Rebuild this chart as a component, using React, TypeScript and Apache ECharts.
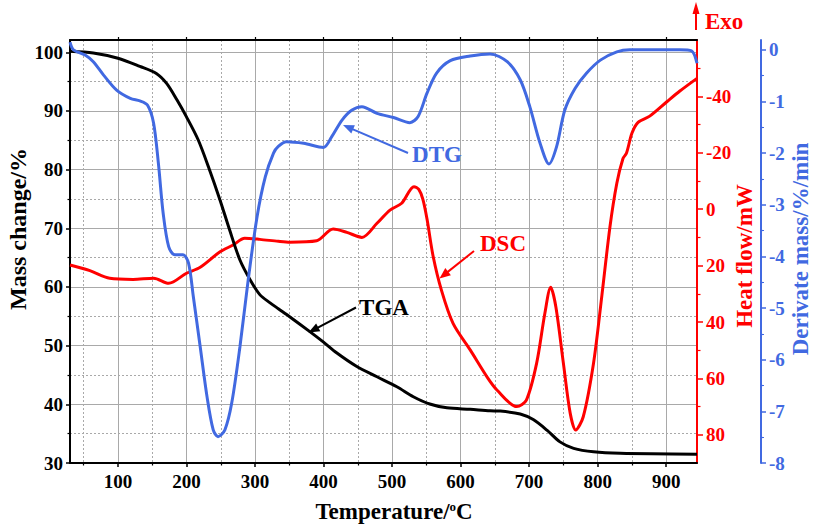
import React, { useEffect, useRef } from 'react';
import * as echarts from 'echarts';

const FONT = '"Liberation Serif", "Times New Roman", serif';
const BLUE = '#4169E1';
const RED = '#FF0000';
const GRID = '#a9a9a9';

// ---- data ----
const tgaT = [30, 64, 100, 132, 156, 171, 186, 200, 217, 232, 249, 263, 278, 293, 307, 322, 334, 351, 380, 400, 419, 448, 478, 507, 531, 555, 580, 614, 643, 658, 687, 706, 726, 745, 765, 794, 833, 945];
const tgaMass = [100.2, 99.9, 99.0, 97.6, 96.4, 94.7, 91.9, 89.0, 85.1, 80.5, 74.8, 69.7, 64.6, 61.2, 58.7, 57.3, 56.3, 54.9, 52.4, 50.6, 48.8, 46.5, 44.7, 43.0, 41.3, 40.05, 39.4, 39.15, 38.9, 38.85, 38.35, 37.4, 35.6, 33.6, 32.5, 31.9, 31.65, 31.5];

const dscT = [30, 59, 88, 122, 152, 174, 200, 220, 249, 268, 285, 307, 334, 351, 390, 414, 434, 456, 478, 497, 514, 532, 539, 545, 551, 560, 572, 589, 614, 640, 653, 682, 696, 711, 723, 731.5, 739, 750, 760, 768, 779, 794, 806, 818, 828, 837, 842, 850, 859, 876, 901, 920, 945];
const dscVal = [19.8, 21.8, 24.5, 24.9, 24.5, 26.3, 22.7, 20.6, 15.1, 12.7, 10.3, 10.7, 11.4, 11.7, 11.2, 7.0, 8.2, 10.0, 5.0, 0.3, -2.1, -8.0, -7.0, -3.5, 3.5, 16.8, 28.7, 40.5, 49.9, 60.0, 64.1, 70.0, 67.7, 54.6, 36.9, 27.7, 34.6, 54.6, 72.4, 78.3, 73.6, 54.6, 31.0, 6.2, -9.2, -18.0, -19.8, -26.9, -30.8, -33.0, -38.1, -41.9, -46.4];

const dtgT = [30, 35, 52, 64, 79, 98, 118, 132, 143, 152, 159, 166, 174, 183, 195, 203, 210, 220, 230, 239, 246, 256, 266, 278, 290, 303, 315, 327, 334, 346, 371, 400, 412, 427, 441, 456, 478, 502, 526, 538, 551, 565, 585, 614, 643, 668, 687, 701, 716, 729, 740, 752, 767, 784, 804, 828, 847, 920, 937, 945];
const dtgVal = [0.15, 0.0, -0.10, -0.23, -0.49, -0.78, -0.94, -0.99, -1.07, -1.42, -2.2, -3.17, -3.81, -3.97, -3.97, -4.13, -4.78, -5.75, -6.72, -7.36, -7.49, -7.36, -6.84, -5.75, -4.46, -3.23, -2.46, -2.0, -1.87, -1.78, -1.81, -1.89, -1.68, -1.36, -1.17, -1.10, -1.23, -1.31, -1.41, -1.29, -0.84, -0.45, -0.21, -0.12, -0.08, -0.23, -0.58, -1.10, -1.81, -2.21, -1.88, -1.17, -0.75, -0.45, -0.20, -0.04, 0.0, 0.0, -0.02, -0.26];

// ---- tick values ----
const xMajor = [100, 200, 300, 400, 500, 600, 700, 800, 900];
const xMinor = [50, 150, 250, 350, 450, 550, 650, 750, 850];
const massMajor = [30, 40, 50, 60, 70, 80, 90, 100];
const massMinor = [35, 45, 55, 65, 75, 85, 95];
const dscMajor = [-40, -20, 0, 20, 40, 60, 80];
const dscMinor = [-50, -30, -10, 10, 30, 50, 70];
const dtgMajor = [-8, -7, -6, -5, -4, -3, -2, -1, 0];
const dtgMinor = [-7.5, -6.5, -5.5, -4.5, -3.5, -2.5, -1.5, -0.5];

const zip = (a: number[], b: number[]) => a.map((v, i) => [v, b[i]]);

function arrow(x1: number, y1: number, x2: number, y2: number, color: string, hl = 11, hw = 4.5) {
  const dx = x2 - x1, dy = y2 - y1;
  const L = Math.hypot(dx, dy);
  const ux = dx / L, uy = dy / L;
  const bx = x2 - ux * hl, by = y2 - uy * hl;
  return [
    { type: 'line', z: 100, silent: true, shape: { x1, y1, x2: bx + ux * 2, y2: by + uy * 2 }, style: { stroke: color, lineWidth: 2 } },
    { type: 'polygon', z: 100, silent: true, shape: { points: [[x2, y2], [bx - uy * hw, by + ux * hw], [bx + uy * hw, by - ux * hw]] }, style: { fill: color } },
  ];
}

function txt(text: string, x: number, y: number, color: string, size: number, rotation = 0, extra: any = {}) {
  return {
    type: 'text', z: 100, silent: true, x, y, rotation,
    style: { text, fill: color, font: `bold ${size}px ${FONT}`, align: 'center', verticalAlign: 'middle', ...extra },
  };
}

const labelStyle = (color: string) => ({ color, fontFamily: FONT, fontWeight: 'bold', fontSize: 19 });

export default function App() {
  const ref = useRef<HTMLDivElement>(null);
  useEffect(() => {
    document.body.style.margin = '0';
    const chart = echarts.init(ref.current!, undefined, { renderer: 'svg' });
    const xBase = { type: 'value', min: 30, max: 945, gridIndex: 0 };
    const option: any = {
      animation: false,
      backgroundColor: '#fff',
      grid: { left: 70, right: 116, top: 40, bottom: 64, containLabel: false, outerBoundsMode: 'none' },
      xAxis: [
        {
          ...xBase, position: 'bottom', splitNumber: 9,
          axisLine: { show: true, onZero: false, lineStyle: { color: '#000', width: 2 } },
          axisTick: { show: true, customValues: xMajor, length: 4, lineStyle: { color: '#000', width: 1.5 } },
          axisLabel: { customValues: xMajor, margin: 9, ...labelStyle('#000') },
          splitLine: { show: true, lineStyle: { color: GRID, width: 1 } },
        },
        {
          ...xBase, position: 'bottom', splitNumber: 18,
          axisLine: { show: false, onZero: false },
          axisTick: { show: true, customValues: xMinor, length: 2.5, lineStyle: { color: '#000', width: 1.2 } },
          axisLabel: { show: false },
          splitLine: { show: true, lineStyle: { color: GRID, width: 1, type: [2, 2] } },
        },
        {
          ...xBase, position: 'top', splitNumber: 9,
          axisLine: { show: true, onZero: false, lineStyle: { color: '#000', width: 2 } },
          axisTick: { show: true, customValues: xMajor, length: 3, lineStyle: { color: '#000', width: 1.2 } },
          axisLabel: { show: false },
          splitLine: { show: false },
        },
      ],
      yAxis: [
        {
          type: 'value', min: 30, max: 102.1, interval: 10, position: 'left',
          axisLine: { show: true, onZero: false, lineStyle: { color: '#000', width: 2 } },
          axisTick: { show: true, customValues: massMajor, length: 4, lineStyle: { color: '#000', width: 1.5 } },
          axisLabel: { customValues: massMajor, margin: 7, ...labelStyle('#000') },
          splitLine: { show: true, lineStyle: { color: GRID, width: 1 } },
        },
        {
          type: 'value', min: 30, max: 102.1, interval: 5, position: 'left',
          axisLine: { show: false, onZero: false },
          axisTick: { show: true, customValues: massMinor, length: 2.5, lineStyle: { color: '#000', width: 1.2 } },
          axisLabel: { show: false },
          splitLine: { show: true, lineStyle: { color: GRID, width: 1, type: [2, 2] } },
        },
        {
          type: 'value', min: -60, max: 90, interval: 20, inverse: true, position: 'right', offset: 0,
          axisLine: { show: true, onZero: false, lineStyle: { color: RED, width: 2 } },
          axisTick: { show: true, customValues: dscMajor, length: 6, lineStyle: { color: RED, width: 1.5 } },
          axisLabel: { customValues: dscMajor, margin: 9, ...labelStyle(RED) },
          splitLine: { show: false },
        },
        {
          type: 'value', min: -60, max: 90, interval: 10, inverse: true, position: 'right', offset: 0,
          axisLine: { show: false, onZero: false },
          axisTick: { show: true, customValues: dscMinor, length: 3.5, lineStyle: { color: RED, width: 1.2 } },
          axisLabel: { show: false },
          splitLine: { show: false },
        },
        {
          type: 'value', min: -8, max: 0.19, interval: 1, position: 'right', offset: 64,
          axisLine: { show: true, onZero: false, lineStyle: { color: BLUE, width: 2 } },
          axisTick: { show: true, customValues: dtgMajor, length: 5, lineStyle: { color: BLUE, width: 1.5 } },
          axisLabel: { customValues: dtgMajor, margin: 8, ...labelStyle(BLUE) },
          splitLine: { show: false },
        },
        {
          type: 'value', min: -8, max: 0.19, interval: 0.5, position: 'right', offset: 64,
          axisLine: { show: false, onZero: false },
          axisTick: { show: true, customValues: dtgMinor, length: 3, lineStyle: { color: BLUE, width: 1.2 } },
          axisLabel: { show: false },
          splitLine: { show: false },
        },
      ],
      series: [
        {
          name: 'DSC', type: 'line', xAxisIndex: 0, yAxisIndex: 2, data: zip(dscT, dscVal),
          smooth: 0.3, showSymbol: false, lineStyle: { color: RED, width: 3 }, itemStyle: { color: RED }, z: 3,
        },
        {
          name: 'TGA', type: 'line', xAxisIndex: 0, yAxisIndex: 0, data: zip(tgaT, tgaMass),
          smooth: 0.3, showSymbol: false, lineStyle: { color: '#000', width: 3 }, itemStyle: { color: '#000' }, z: 4,
        },
        {
          name: 'DTG', type: 'line', xAxisIndex: 0, yAxisIndex: 4, data: zip(dtgT, dtgVal),
          smooth: 0.3, showSymbol: false, lineStyle: { color: BLUE, width: 3 }, itemStyle: { color: BLUE }, z: 5,
        },
      ],
      graphic: [
        txt('Mass change/%', 18, 229, '#000', 24, Math.PI / 2),
        txt('Heat flow/mW', 744, 256, RED, 23, Math.PI / 2),
        txt('Derivate mass/%/min', 800, 249, BLUE, 23, Math.PI / 2),
        {
          type: 'text', z: 100, silent: true, x: 394, y: 511,
          style: {
            text: 'Temperature/{s|o}C', fill: '#000', font: `bold 23px ${FONT}`, align: 'center', verticalAlign: 'middle',
            rich: { s: { fontSize: 13, fontWeight: 'bold', fontFamily: FONT, fill: '#000', verticalAlign: 'top', padding: [0, 0, 6, 0] } },
          },
        },
        txt('DTG', 437, 154, BLUE, 23),
        ...arrow(408, 153, 343, 125, BLUE),
        txt('DSC', 503, 243, RED, 23),
        ...arrow(474, 251, 439.5, 278.5, RED),
        txt('TGA', 384, 307, '#000', 23),
        ...arrow(356, 307.5, 308.5, 332.5, '#000'),
        ...arrow(696, 30, 696, 2, RED, 12, 3.5),
        txt('Exo', 705, 21, RED, 23, 0, { align: 'left' }),
      ],
    };
    chart.setOption(option);
    return () => chart.dispose();
  }, []);
  return <div ref={ref} style={{ width: 813, height: 527 }} />;
}
